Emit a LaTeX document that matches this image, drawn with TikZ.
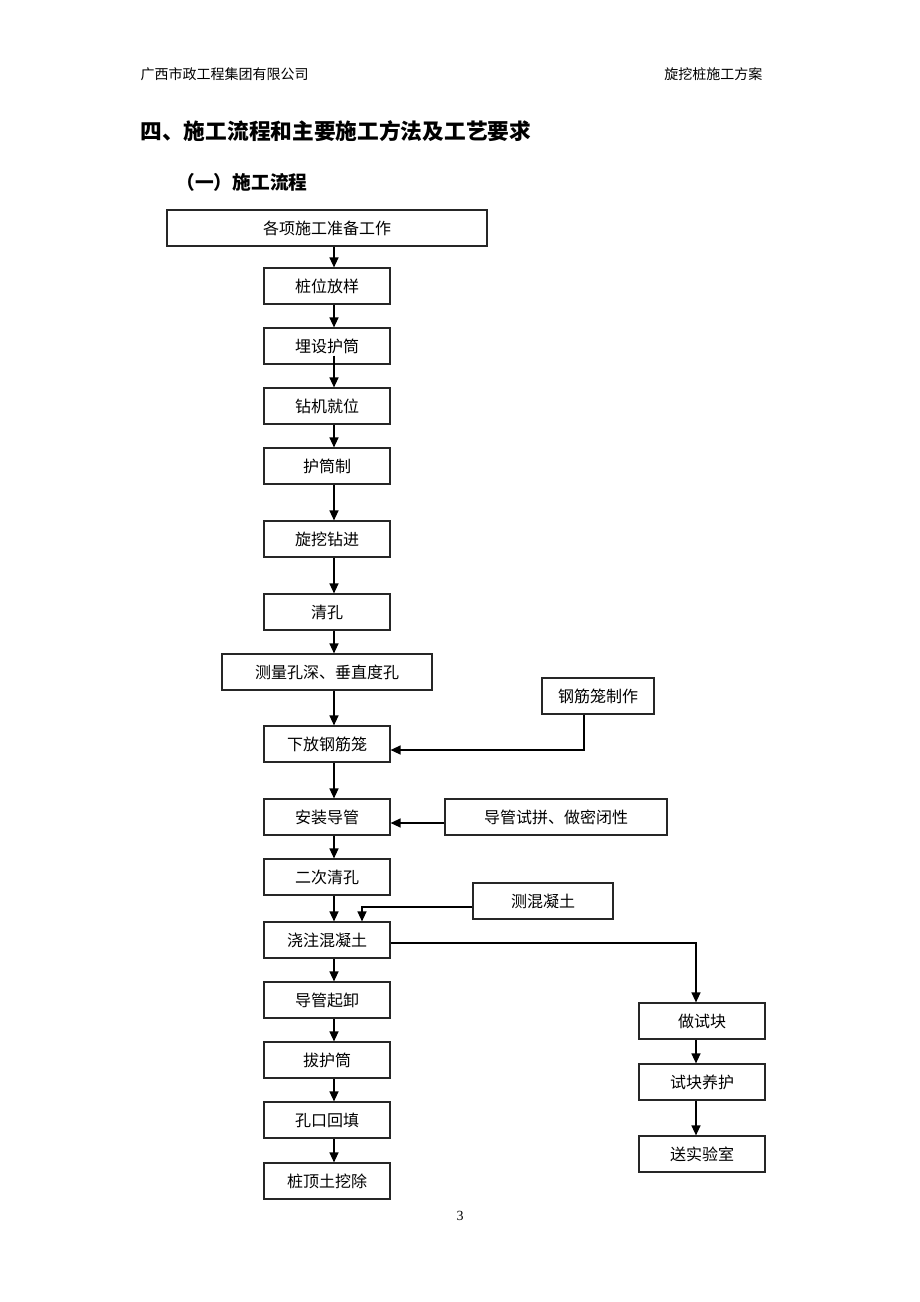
\documentclass[tikz,border=0pt]{standalone}
\usepackage{fontspec}
\setmainfont{Liberation Serif}
\newfontfamily\cjk{Noto Sans CJK SC}
\usetikzlibrary{arrows.meta}

\tikzset{
  box/.style={draw=black!85, line width=1.2pt, minimum height=36pt, inner sep=0pt,
    font=\cjk\fontsize{16}{16}\selectfont},
  flow/.style={->, line width=1.3pt},
}

\begin{document}
\begin{tikzpicture}[x=1pt, y=-1pt, >={Triangle[length=10pt,width=9pt]}]
    \useasboundingbox (0,0) rectangle (920,1302);
    % page head and titles
    \node[anchor=west, font=\cjk\fontsize{14}{14}\selectfont] (hleft) at (137,74) {广西市政工程集团有限公司};
    \node[anchor=east, font=\cjk\fontsize{14}{14}\selectfont] (hright) at (766,74) {旋挖桩施工方案};
    \node[anchor=west, font=\cjk\bfseries\fontsize{21.7}{22}\selectfont] (title) at (137,131) {四、施工流程和主要施工方法及工艺要求};
    \node[anchor=west, font=\cjk\bfseries\fontsize{18.7}{19}\selectfont] (subtitle) at (173,182) {（一）施工流程};
    \node[font=\fontsize{14}{14}\selectfont] (pageno) at (460,1216) {3};
    % main column
    \node[box, minimum width=320pt] (prep) at (327,228) {各项施工准备工作};
    \node[box, minimum width=126pt] (stake) at (327,286) {桩位放样};
    \node[box, minimum width=126pt] (casing) at (327,346) {埋设护筒};
    \node[box, minimum width=126pt] (rig) at (327,406) {钻机就位};
    \node[box, minimum width=126pt] (casingmake) at (327,466) {护筒制};
    \node[box, minimum width=126pt] (drill) at (327,539) {旋挖钻进};
    \node[box, minimum width=126pt] (clean) at (327,612) {清孔};
    \node[box, minimum width=210pt] (measure) at (327,672) {测量孔深、垂直度孔};
    \node[box, minimum width=126pt] (cage) at (327,744) {下放钢筋笼};
    \node[box, minimum width=126pt] (pipe) at (327,817) {安装导管};
    \node[box, minimum width=126pt] (cleantwo) at (327,877) {二次清孔};
    \node[box, minimum width=126pt] (pour) at (327,940) {浇注混凝土};
    \node[box, minimum width=126pt] (pipeout) at (327,1000) {导管起卸};
    \node[box, minimum width=126pt] (pullout) at (327,1060) {拔护筒};
    \node[box, minimum width=126pt] (backfill) at (327,1120) {孔口回填};
    \node[box, minimum width=126pt] (pilehead) at (327,1181) {桩顶土挖除};
    % side boxes
    \node[box, minimum width=112pt] (cagemake) at (598,696) {钢筋笼制作};
    \node[box, minimum width=222pt] (pipetest) at (556,817) {导管试拼、做密闭性};
    \node[box, minimum width=140pt] (slump) at (543,901) {测混凝土};
    \node[box, minimum width=126pt] (cube) at (702,1021) {做试块};
    \node[box, minimum width=126pt] (cure) at (702,1082) {试块养护};
    \node[box, minimum width=126pt] (lab) at (702,1154) {送实验室};
    \coordinate (spine) at (334,0);
    \coordinate (side) at (696,0);
    % arrows
    \foreach \a/\b in {prep/stake, stake/casing, rig/casingmake, casingmake/drill, drill/clean,
        clean/measure, measure/cage, cage/pipe, pipe/cleantwo, cleantwo/pour, pour/pipeout,
        pipeout/pullout, pullout/backfill, backfill/pilehead}
        \draw[flow] (\a.south -| spine) -- (\b.north -| spine);
    \draw[flow] ([yshift=9pt]casing.south -| spine) -- (rig.north -| spine);
    \draw[flow] ([xshift=-14pt]cagemake.south) |- ([yshift=-6pt]cage.east);
    \draw[flow] ([yshift=-6pt]pipetest.west) -- ([yshift=-6pt]pipe.east);
    \draw[flow] ([yshift=-6pt]slump.west) -| ([xshift=35pt]pour.north);
    \draw[flow] ([yshift=-3pt]pour.east) -| (cube.north -| side);
    \draw[flow] (cube.south -| side) -- (cure.north -| side);
    \draw[flow] (cure.south -| side) -- (lab.north -| side);
\end{tikzpicture}
\end{document}
